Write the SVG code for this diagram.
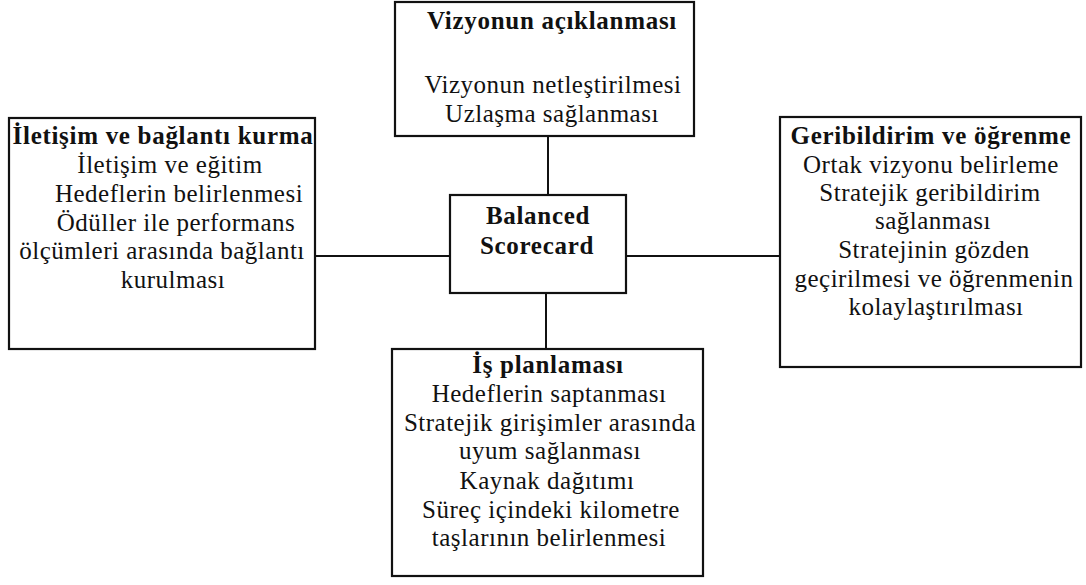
<svg xmlns="http://www.w3.org/2000/svg" width="1086" height="585" viewBox="0 0 1086 585">
  <style>
    .box { fill: #fff; stroke: #111; stroke-width: 2.2; }
    .link { stroke: #111; stroke-width: 2; fill: none; }
    text { font-family: "Liberation Serif", "Times New Roman", serif; font-size: 25px; letter-spacing: 0.5px; fill: #111; text-anchor: middle; }
    .h { font-weight: bold; letter-spacing: 0.7px; }
  </style>
  <rect width="1086" height="585" fill="#fff"/>

  <g id="connectors">
    <line class="link" x1="548" y1="136" x2="548" y2="195"/>
    <line class="link" x1="546" y1="293" x2="546" y2="349"/>
    <line class="link" x1="315" y1="256" x2="450" y2="256"/>
    <line class="link" x1="626" y1="256" x2="780" y2="256"/>
  </g>

  <g id="vision">
    <rect class="box" x="395" y="2" width="299" height="134"/>
    <text class="h" x="552" y="29">Vizyonun açıklanması</text>
    <text x="553" y="93">Vizyonun netleştirilmesi</text>
    <text x="552" y="122">Uzlaşma sağlanması</text>
  </g>

  <g id="communication">
    <rect class="box" x="9" y="118" width="306" height="231"/>
    <text class="h" x="163" y="144">İletişim ve bağlantı kurma</text>
    <text x="170" y="173">İletişim ve eğitim</text>
    <text x="179" y="202">Hedeflerin belirlenmesi</text>
    <text x="176" y="231">Ödüller ile performans</text>
    <text x="162" y="259">ölçümleri arasında bağlantı</text>
    <text x="173" y="288">kurulması</text>
  </g>

  <g id="scorecard">
    <rect class="box" x="450" y="195" width="176" height="98"/>
    <text class="h" x="538" y="224">Balanced</text>
    <text class="h" x="537" y="254">Scorecard</text>
  </g>

  <g id="feedback">
    <rect class="box" x="780" y="117" width="301" height="250"/>
    <text class="h" x="931" y="144">Geribildirim ve öğrenme</text>
    <text x="931" y="173">Ortak vizyonu belirleme</text>
    <text x="930" y="201">Stratejik geribildirim</text>
    <text x="933" y="229">sağlanması</text>
    <text x="934" y="258">Stratejinin gözden</text>
    <text x="934" y="287">geçirilmesi ve öğrenmenin</text>
    <text x="936" y="315">kolaylaştırılması</text>
  </g>

  <g id="planning">
    <rect class="box" x="392" y="349" width="311" height="227"/>
    <text class="h" x="548" y="373">İş planlaması</text>
    <text x="549" y="402">Hedeflerin saptanması</text>
    <text x="550" y="431">Stratejik girişimler arasında</text>
    <text x="550" y="459">uyum sağlanması</text>
    <text x="547" y="489">Kaynak dağıtımı</text>
    <text x="551" y="518">Süreç içindeki kilometre</text>
    <text x="549" y="546">taşlarının belirlenmesi</text>
  </g>
</svg>
